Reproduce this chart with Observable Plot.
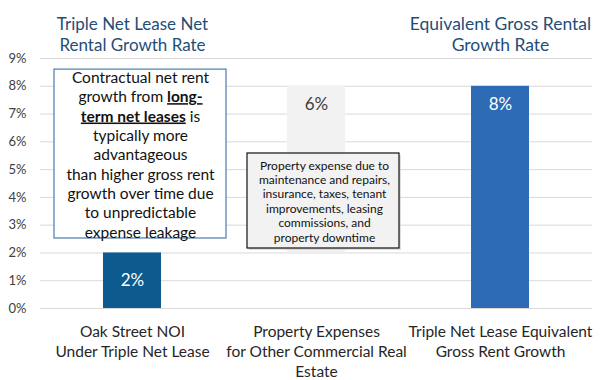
<!DOCTYPE html>
<html>
<head>
<meta charset="utf-8">
<script src="https://cdn.jsdelivr.net/npm/d3@7"></script>
<script src="https://cdn.jsdelivr.net/npm/@observablehq/plot@0.6"></script>
<style>
  body { margin: 0; background: #fff; }
  #chart svg { display: block; }
</style>
</head>
<body>
<div id="chart"></div>
<script>
// ---- data ----
const categories = [
  "Oak Street NOI\nUnder Triple Net Lease",
  "Property Expenses\nfor Other Commercial Real\nEstate",
  "Triple Net Lease Equivalent\nGross Rent Growth"
];
const barBase = [0, 2, 0];          // % (waterfall start)
const barTop = [2, 8, 8];           // % (waterfall end)
const barLabels = ["2%", "6%", "8%"];
const barColors = ["#0d5a8e", "#f2f2f2", "#2e6bb5"];
const labelColors = ["#ffffff", "#404040", "#ffffff"];
const yTicks = [0, 1, 2, 3, 4, 5, 6, 7, 8, 9];
const titleLeft = "Triple Net Lease Net\nRental Growth Rate";
const titleRight = "Equivalent Gross Rental\nGrowth Rate";
const note1 = "Contractual net rent\ngrowth from **long-**\n**term net leases** is\ntypically more\nadvantageous\nthan higher gross rent\ngrowth over time due\nto unpredictable\nexpense leakage";
const note2 = "Property expense due to\nmaintenance and repairs,\ninsurance, taxes, tenant\nimprovements, leasing\ncommissions, and\nproperty downtime";

const bars = categories.map((c, i) => ({
  cat: c, y1: barBase[i], y2: barTop[i], label: barLabels[i],
  color: barColors[i], lc: labelColors[i], i
}));

const plot = Plot.plot({
  width: 601,
  height: 380,
  marginLeft: 40,
  marginRight: 9,
  marginTop: 58,
  marginBottom: 72,
  style: { fontFamily: "Lato, sans-serif", background: "#fff" },
  x: { domain: categories, paddingInner: 0.685, paddingOuter: 0.3425, label: null },
  y: { domain: [0, 9], label: null },
  marks: [
    Plot.gridY(yTicks, { stroke: "#d9d9d9", strokeOpacity: 1 }),
    Plot.axisY(yTicks, {
      tickSize: 0, tickPadding: 14, fontSize: 13, fill: "#404040",
      tickFormat: d => d + "%", label: null
    }),
    Plot.axisX({
      tickSize: 0, tickPadding: 14, fontSize: 15.5, fill: "#262626",
      lineHeight: 1.3, label: null
    }),
    Plot.barY(bars, { x: "cat", y1: "y1", y2: "y2", fill: "color" }),
    // value labels
    Plot.text(bars.filter(d => d.i === 0), {
      x: "cat", y: d => (d.y1 + d.y2) / 2, text: "label", fill: "lc", fontSize: 17
    }),
    Plot.text(bars.filter(d => d.i !== 0), {
      x: "cat", y: "y2", text: "label", fill: "lc", fontSize: 17, dy: 18
    }),
    // titles
    Plot.text([titleLeft], {
      x: () => categories[0], frameAnchor: "top", text: d => d,
      lineAnchor: "bottom", dy: -8, fontSize: 17, fill: "#1f4e79", lineHeight: 1.18
    }),
    Plot.text([titleRight], {
      x: () => categories[2], frameAnchor: "top", text: d => d,
      lineAnchor: "bottom", dy: -8, fontSize: 17.5, fill: "#1f4e79", lineHeight: 1.15
    }),
    // annotation box 1
    Plot.barY([0], {
      x: () => categories[0], y1: () => 2.52, y2: () => 8.6,
      insetLeft: -49, insetRight: -65, fill: "#ffffff", stroke: "#4a7bb0", strokeWidth: 1.2
    }),
    Plot.text([note1], {
      x: () => categories[0], y: () => 5.56, text: d => d, dx: 8,
      fontSize: 15.5, lineHeight: 1.25, fill: "#111111"
    }),
    // annotation box 2 (shadow + box)
    Plot.barY([0], {
      x: () => categories[1], y1: () => 2.16, y2: () => 5.58,
      insetLeft: -40, insetRight: -54, dx: 2, dy: 2, fill: "#c8c8c8", fillOpacity: 0.6
    }),
    Plot.barY([0], {
      x: () => categories[1], y1: () => 2.16, y2: () => 5.58,
      insetLeft: -40, insetRight: -54, fill: "#f2f2f2", stroke: "#111111", strokeWidth: 1.2
    }),
    Plot.text([note2], {
      x: () => categories[1], y: () => 3.87, text: d => d, dx: 8,
      fontSize: 12, lineHeight: 1.2, fill: "#111111"
    })
  ]
});

// bold + underline for **marked** runs
d3.select(plot).selectAll("tspan").each(function () {
  const t = this.textContent;
  if (!t.includes("**")) return;
  const parts = t.split(/\*\*(.*?)\*\*/);
  this.textContent = "";
  parts.forEach((p, k) => {
    if (!p) return;
    const s = document.createElementNS("http://www.w3.org/2000/svg", "tspan");
    s.textContent = p;
    if (k % 2 === 1) {
      s.setAttribute("font-weight", "bold");
      s.setAttribute("text-decoration", "underline");
    }
    this.appendChild(s);
  });
});

document.getElementById("chart").appendChild(plot);
</script>
</body>
</html>
